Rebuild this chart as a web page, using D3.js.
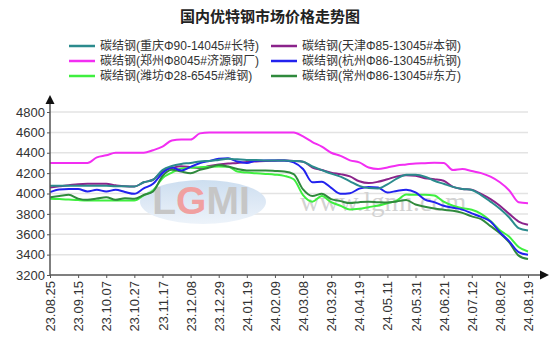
<!DOCTYPE html>
<html>
<head>
<meta charset="utf-8">
<script src="https://cdn.jsdelivr.net/npm/d3@7"></script>
<style>
  body { margin: 0; background: #fff; }
  svg { display: block; font-family: "Liberation Sans", Arial, "Noto Sans CJK SC", sans-serif; }
</style>
</head>
<body>
<div id="chart"></div>
<script>
// x tick labels (one every 3 sample points)
const tickLabels = ['23.08.25', '23.09.15', '23.10.07', '23.10.27', '23.11.17', '23.12.08', '23.12.29',
  '24.01.19', '24.02.09', '24.03.08', '24.03.29', '24.04.19', '24.05.11', '24.05.31', '24.06.21',
  '24.07.12', '24.08.02', '24.08.19'];

const seriesNames = ['碳结钢(重庆Φ90-14045#长特)', '碳结钢(天津Φ85-13045#本钢)', '碳结钢(郑州Φ8045#济源钢厂)',
  '碳结钢(杭州Φ86-13045#杭钢)', '碳结钢(潍坊Φ28-6545#潍钢)', '碳结钢(常州Φ86-13045#东方)'];

// values, 52 samples each
const chongqing = [4075, 4075, 4075, 4075, 4075, 4075, 4075, 4070, 4070, 4068, 4110, 4135, 4230, 4270, 4290, 4300, 4315, 4320,
  4330, 4340, 4335, 4330, 4330, 4325, 4325, 4324, 4320, 4312, 4265, 4230, 4195, 4165, 4120, 4075, 4053, 4050,
  4090, 4145, 4185, 4183, 4165, 4125, 4095, 4065, 4045, 4035, 3985, 3920, 3850, 3765, 3660, 3637];
const tianjin = [4060, 4070, 4080, 4092, 4095, 4095, 4095, 4080, 4070, 4068, 4110, 4135, 4220, 4250, 4268, 4260, 4250, 4270,
  4285, 4295, 4300, 4310, 4315, 4320, 4322, 4324, 4320, 4312, 4255, 4230, 4205, 4190, 4168, 4120, 4102, 4115,
  4140, 4167, 4180, 4175, 4150, 4140, 4125, 4065, 4045, 4038, 3995, 3945, 3880, 3800, 3725, 3693];
const zhengzhou = [4300, 4300, 4300, 4300, 4300, 4355, 4375, 4400, 4400, 4400, 4400, 4425, 4460, 4520, 4530, 4530, 4590, 4600,
  4600, 4600, 4600, 4600, 4600, 4600, 4600, 4600, 4600, 4560, 4505, 4460, 4400, 4370, 4325, 4305, 4255, 4240,
  4255, 4275, 4285, 4295, 4298, 4302, 4300, 4230, 4240, 4220, 4200, 4165, 4110, 4030, 3915, 3905];
const hangzhou = [4013, 4040, 4043, 4043, 4020, 4036, 4020, 4036, 4015, 3997, 4050, 4095, 4200, 4255, 4226, 4262, 4300, 4320,
  4340, 4345, 4314, 4300, 4322, 4325, 4325, 4325, 4305, 4240, 4110, 4115, 4055, 3998, 4003, 4048, 4065, 4058,
  4010, 4025, 4036, 4010, 3940, 3915, 3880, 3860, 3842, 3805, 3770, 3725, 3620, 3530, 3425, 3398];
const weifang = [3948, 3945, 3940, 3935, 3932, 3932, 3932, 3932, 3932, 3931, 3982, 4030, 4150, 4205, 4245, 4252, 4258, 4262,
  4265, 4262, 4216, 4205, 4198, 4192, 4185, 4173, 4140, 3985, 3920, 3975, 3915, 3880, 3842, 3850, 3866, 3882,
  3905, 3930, 3990, 3987, 3987, 3980, 3920, 3880, 3855, 3840, 3800, 3730, 3640, 3575, 3475, 3431];
const changzhou = [3964, 3975, 3987, 3950, 3938, 3950, 3964, 3938, 3954, 3948, 3985, 4020, 4170, 4232, 4215, 4200, 4232, 4255,
  4280, 4265, 4240, 4226, 4226, 4226, 4222, 4216, 4190, 4040, 3975, 3997, 3945, 3925, 3906, 3915, 3920, 3915,
  3912, 3922, 3935, 3892, 3870, 3852, 3840, 3830, 3810, 3775, 3748, 3680, 3610, 3520, 3390, 3356];

const yTicks = [3200, 3400, 3600, 3800, 4000, 4200, 4400, 4600, 4800];

const colors = ['#2b8b8d', '#8b238b', '#f22ef2', '#2222ee', '#3fef3f', '#2f8a3c'];
const allSeries = [chongqing, tianjin, zhengzhou, hangzhou, weifang, changzhou];

const width = 554, height = 351;
const svg = d3.select('#chart').append('svg')
  .attr('width', width).attr('height', height);

const x = d3.scaleLinear().domain([0, 51]).range([50, 528]);
const y = d3.scaleLinear().domain([3200, 4800]).range([275, 112]);

// title
svg.append('text')
  .attr('x', 270).attr('y', 22)
  .attr('text-anchor', 'middle')
  .style('font-size', '15px').style('font-weight', 'bold').style('fill', '#222')
  .text('国内优特钢市场价格走势图');

// legend
const legendPos = [[69, 46], [271, 46], [69, 61], [271, 61], [69, 76], [271, 76]];
seriesNames.forEach((name, i) => {
  const [lx, ly] = legendPos[i];
  const g = svg.append('g').attr('transform', `translate(${lx},${ly})`);
  g.append('line').attr('x1', 0).attr('x2', 26).attr('y1', 0).attr('y2', 0)
    .attr('stroke', colors[i]).attr('stroke-width', 2.5);
  g.append('text').attr('x', 31).attr('y', 0).attr('dy', '0.35em')
    .style('font-size', '12px').style('fill', '#333').text(name);
});

// grid
svg.append('g').selectAll('line')
  .data(yTicks.slice(1))
  .enter().append('line')
  .attr('x1', 50).attr('x2', 528)
  .attr('y1', d => y(d)).attr('y2', d => y(d))
  .attr('stroke', '#e3e3e3').attr('stroke-width', 1.5);

// watermark
const wm = svg.append('g');
const grad = svg.append('defs').append('linearGradient')
  .attr('id', 'wm-grad').attr('x1', 0).attr('y1', 0).attr('x2', 0).attr('y2', 1);
grad.append('stop').attr('offset', '0%').attr('stop-color', '#cddef0');
grad.append('stop').attr('offset', '100%').attr('stop-color', '#edf3fa');
wm.append('ellipse').attr('cx', 203).attr('cy', 202).attr('rx', 63).attr('ry', 22)
  .attr('fill', 'url(#wm-grad)');
const logo = wm.append('text').attr('x', 201).attr('y', 214).attr('text-anchor', 'middle')
  .style('font-size', '39px').style('font-weight', 'bold').style('fill', '#c6c6c6');
logo.append('tspan').text('L');
logo.append('tspan').style('fill', '#f0a0a0').text('G');
logo.append('tspan').text('MI');
wm.append('text').attr('x', 300).attr('y', 211)
  .style('font-family', '"Liberation Serif", serif').style('font-size', '27px').style('fill', '#d2d2d2')
  .text('www.lgmi.com');

// lines
const line = d3.line()
  .x((d, i) => x(i))
  .y(d => y(d))
  .curve(d3.curveMonotoneX);

const drawOrder = [1, 2, 4, 5, 3, 0];
drawOrder.forEach(i => {
  svg.append('path')
    .datum(allSeries[i])
    .attr('fill', 'none')
    .attr('stroke', colors[i])
    .attr('stroke-width', 2)
    .attr('d', line);
});

// y axis
const yAxis = svg.append('g')
  .attr('transform', 'translate(50,0)')
  .call(d3.axisLeft(y).tickValues(yTicks).tickSize(3).tickPadding(2).tickFormat(d3.format('d')));
yAxis.select('.domain').remove();
yAxis.selectAll('line').attr('stroke', '#555');
yAxis.selectAll('text').style('font-size', '13px').style('fill', '#333')
  .style('font-family', '"Liberation Sans", Arial, sans-serif');

// x axis
const xAxis = svg.append('g')
  .attr('transform', 'translate(0,275)')
  .call(d3.axisBottom(x).tickValues(d3.range(0, 52, 3)).tickSize(3)
    .tickFormat(d => tickLabels[d / 3]));
xAxis.select('.domain').remove();
xAxis.selectAll('line').attr('stroke', '#555');
xAxis.selectAll('text')
  .attr('transform', 'rotate(-90)')
  .attr('x', -6).attr('y', 0).attr('dy', '0.35em')
  .style('text-anchor', 'end')
  .style('font-size', '13px').style('fill', '#333')
  .style('font-family', '"Liberation Sans", Arial, sans-serif');

// axis lines with arrows
svg.append('line').attr('x1', 50).attr('x2', 50).attr('y1', 275).attr('y2', 102)
  .attr('stroke', '#555').attr('stroke-width', 1.5);
svg.append('path').attr('d', 'M50,95 L45.5,104 L54.5,104 Z').attr('fill', '#111');
svg.append('line').attr('x1', 50).attr('x2', 540).attr('y1', 275).attr('y2', 275)
  .attr('stroke', '#555').attr('stroke-width', 1.5);
svg.append('path').attr('d', 'M549,275 L540,270.5 L540,279.5 Z').attr('fill', '#111');
</script>
</body>
</html>
